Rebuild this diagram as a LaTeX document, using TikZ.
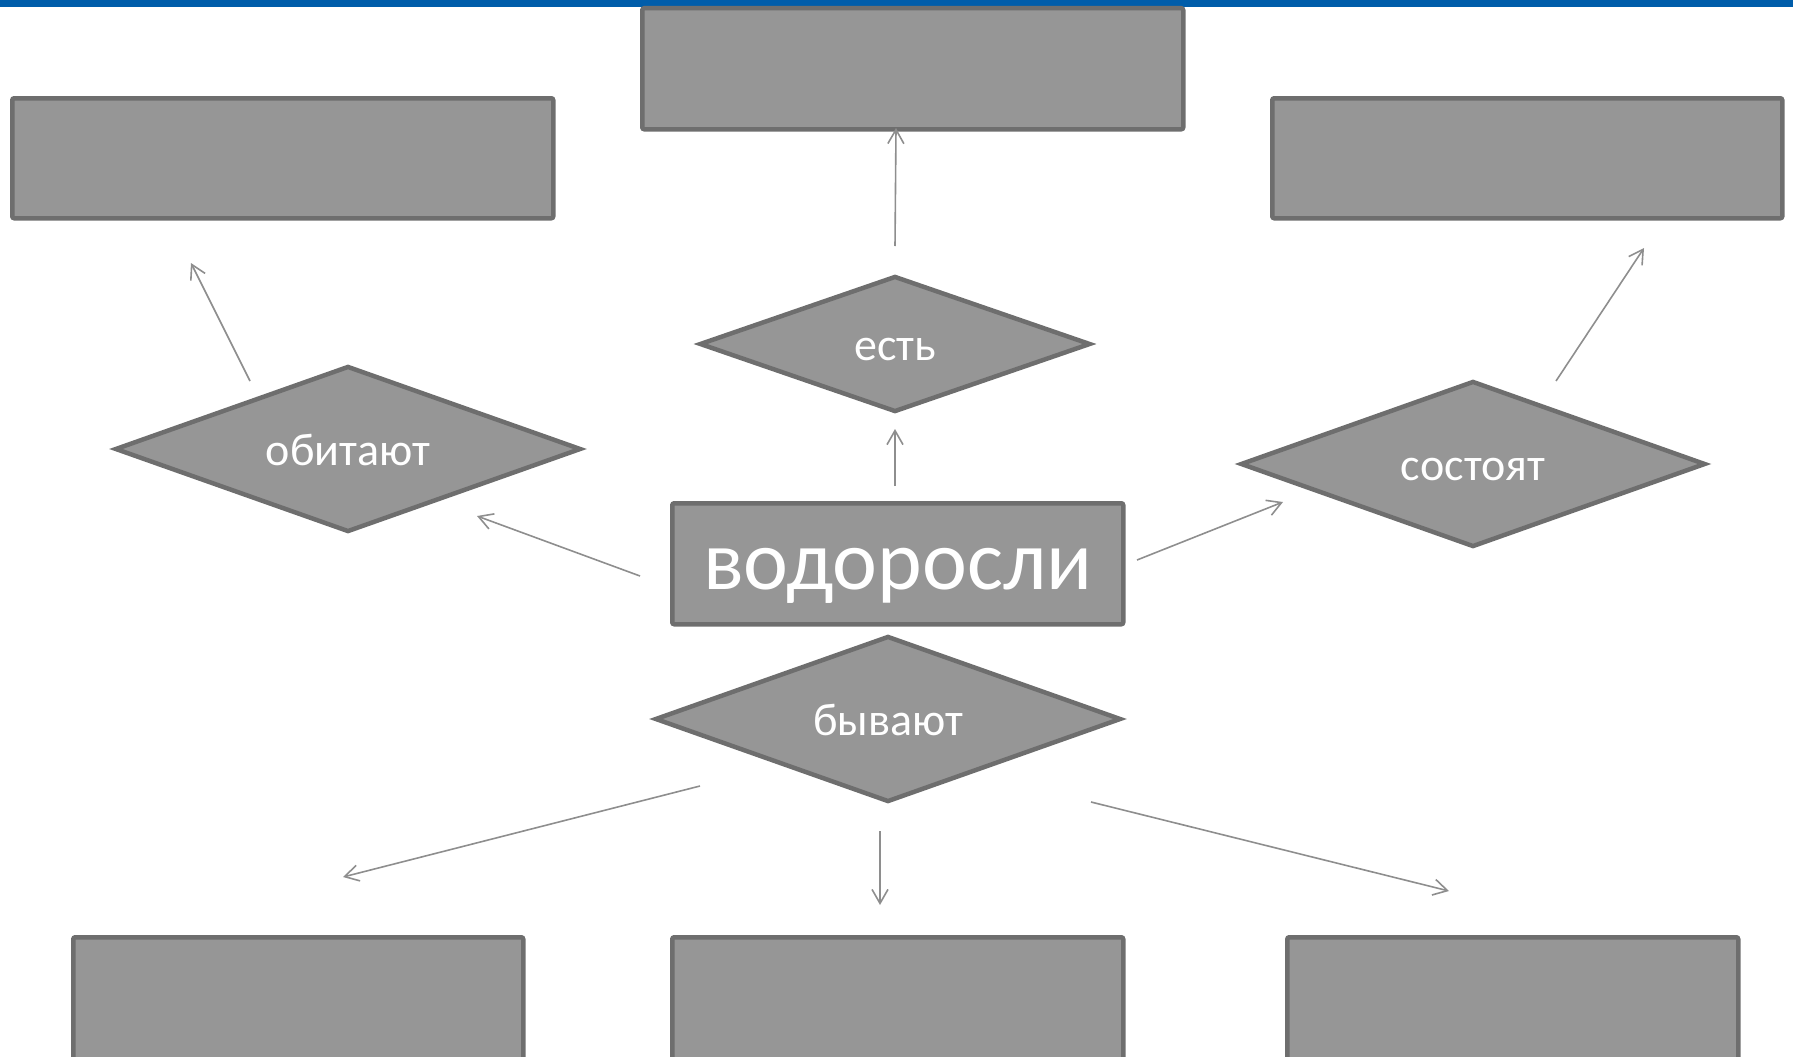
\documentclass[tikz,border=0pt]{standalone}
\usepackage{fontspec}
\setmainfont{Carlito}
\usetikzlibrary{shapes.geometric,arrows.meta}
\definecolor{shapefill}{HTML}{969696}
\definecolor{shapeline}{HTML}{6E6E6E}
\definecolor{arrowcol}{HTML}{8E8E8E}
\definecolor{topbar}{HTML}{005DAA}
\begin{document}
\begin{tikzpicture}[x=1pt,y=-1pt,
  boxnode/.style={draw=shapeline,fill=shapefill,line width=4.5pt,rounded corners=2pt,inner sep=0pt,anchor=north west},
  dianode/.style={diamond,aspect=2.8,draw=shapeline,fill=shapefill,line width=4.5pt,inner sep=0pt,text=white,text height=32pt,text depth=0pt,font=\fontsize{46}{50}\selectfont},
  conn/.style={draw=arrowcol,line width=1.6pt,-{Straight Barb[length=14pt,width=16pt,line width=1.6pt]}}]
\useasboundingbox (0,0) rectangle (1793,1057);
\fill[topbar] (0,0) rectangle (1793,7);
% boxes
\node[boxnode,minimum width=541pt,minimum height=120pt] (tl) at (10,96) {};
\node[boxnode,minimum width=541pt,minimum height=121pt] (tm) at (640,6) {};
\node[boxnode,minimum width=510pt,minimum height=120pt] (tr) at (1270,96) {};
\node[boxnode,minimum width=451pt,minimum height=121pt,text=white,text height=52pt,text depth=0pt,font=\fontsize{85}{90}\selectfont] (alg) at (670,501) {водоросли};
\node[boxnode,minimum width=450pt,minimum height=140pt] (bl) at (71,935) {};
\node[boxnode,minimum width=451pt,minimum height=140pt] (bm) at (670,935) {};
\node[boxnode,minimum width=451pt,minimum height=140pt] (br) at (1285,935) {};
% diamonds
\node[dianode,minimum width=466pt,minimum height=166pt] (obit) at (348,449) {обитают};
\node[dianode,aspect=2.87,minimum width=391pt,minimum height=136pt] (est) at (895,344) {есть};
\node[dianode,minimum width=465pt,minimum height=166pt] (sost) at (1473,464) {состоят};
\node[dianode,minimum width=466pt,minimum height=166pt] (byv) at (888,719) {бывают};
% connector ends
\coordinate (a1s) at (640,576); \coordinate (a1e) at (477,516);
\coordinate (a2s) at (250,381); \coordinate (a2e) at (191,263);
\coordinate (a3s) at (895,486); \coordinate (a3e) at (895,429);
\coordinate (a4s) at (895,246); \coordinate (a4e) at (896,128);
\coordinate (a5s) at (1137,560); \coordinate (a5e) at (1283,502);
\coordinate (a6s) at (1556,381); \coordinate (a6e) at (1644,248);
\coordinate (a7s) at (700,786); \coordinate (a7e) at (343,877);
\coordinate (a8s) at (880,831); \coordinate (a8e) at (880,905);
\coordinate (a9s) at (1091,802); \coordinate (a9e) at (1449,891);
\draw[conn] (a1s) -- (a1e);
\draw[conn] (a2s) -- (a2e);
\draw[conn] (a3s) -- (a3e);
\draw[conn] (a4s) -- (a4e);
\draw[conn] (a5s) -- (a5e);
\draw[conn] (a6s) -- (a6e);
\draw[conn] (a7s) -- (a7e);
\draw[conn] (a8s) -- (a8e);
\draw[conn] (a9s) -- (a9e);
\end{tikzpicture}
\end{document}
